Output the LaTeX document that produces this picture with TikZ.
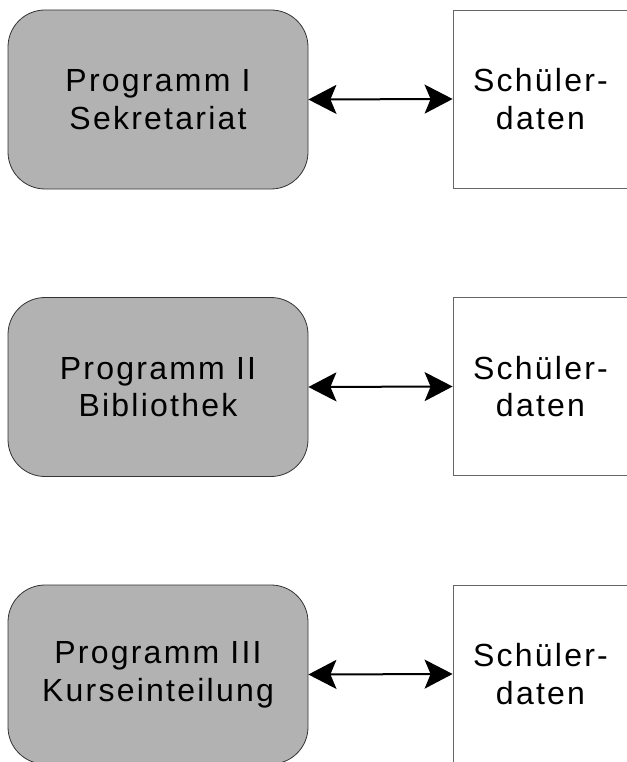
\documentclass[tikz,border=0pt]{standalone}
\usepackage{fontspec}
\setmainfont{Liberation Sans}[LetterSpace=7]
\usetikzlibrary{arrows.meta}
\tikzset{
  prog/.style={draw=black!80, fill=black!30, line width=0.8pt, rounded corners=37pt,
    minimum width=300pt, minimum height=179pt, inner sep=0pt, align=center,
    font=\fontsize{32}{37.7}\selectfont},
  data/.style={draw=black!60, fill=white, line width=0.8pt,
    minimum width=175pt, minimum height=178pt, inner sep=0pt, align=center,
    font=\fontsize{32}{37.7}\selectfont},
  link/.style={line width=2pt, {Stealth[length=28pt,width=29pt,inset=6pt]}-{Stealth[length=28pt,width=29pt,inset=6pt]}}
}
\begin{document}
\begin{tikzpicture}[x=1pt,y=-1pt]
\useasboundingbox (0,0) rectangle (626,762);
\node[prog] (p1) at (158,99.5) {Programm I\\Sekretariat};
\node[data] (d1) at (540.5,99) {Schüler-\\daten};
\node[prog] (p2) at (158,387) {Programm II\\Bibliothek};
\node[data] (d2) at (540.5,386.5) {Schüler-\\daten};
\node[prog] (p3) at (158,674.5) {Programm III\\Kurseinteilung};
\node[data] (d3) at (540.5,674) {Schüler-\\daten};
\draw[link] (p1.east) -- (d1.west);
\draw[link] (p2.east) -- (d2.west);
\draw[link] (p3.east) -- (d3.west);
\end{tikzpicture}
\end{document}
